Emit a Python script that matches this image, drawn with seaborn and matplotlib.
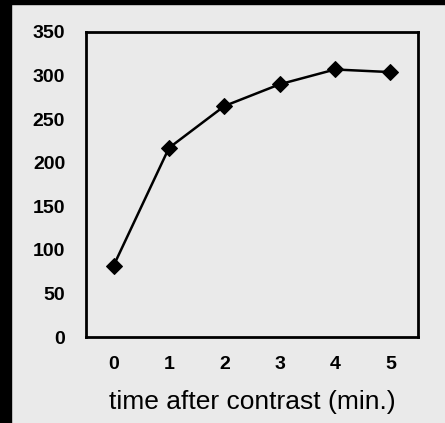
import matplotlib
matplotlib.use("Agg")
import matplotlib.pyplot as plt
import seaborn as sns
import pandas as pd

times = [0, 1, 2, 3, 4, 5]
values = [82, 217, 265, 290, 307, 304]
xlabel = "time after contrast (min.)"
yticks = [0, 50, 100, 150, 200, 250, 300, 350]

sns.set_style("white")
plt.rcParams['font.family'] = ['Liberation Sans', 'DejaVu Sans']
plt.rcParams['text.color'] = 'black'
plt.rcParams['xtick.color'] = 'black'
plt.rcParams['ytick.color'] = 'black'
plt.rcParams['axes.labelcolor'] = 'black'

bg = "#eaeaea"
fig = plt.figure(figsize=(4.45, 4.23), dpi=100, facecolor=bg)
# black border strips
fig.patches.append(plt.Rectangle((0, 0), 11/445, 1, transform=fig.transFigure, color="black", zorder=-1))
fig.patches.append(plt.Rectangle((0, 1 - 4/423), 1, 4/423, transform=fig.transFigure, color="black", zorder=-1))

ax = fig.add_axes([86/445, 1 - 337/423, (418-86)/445, (337-32)/423])
ax.set_facecolor(bg)
df = pd.DataFrame({"t": times, "v": values})
sns.lineplot(data=df, x="t", y="v", ax=ax, color="black", lw=1.8,
             marker="D", markersize=8.5, markeredgecolor="black")

ax.set_xlim(-0.5, 5.5)
ax.set_ylim(0, 350)
ax.set_yticks(yticks)
ax.set_xticks(times)
ax.set_xticks([t - 0.5 for t in times] + [5.5], minor=True)
ax.tick_params(axis="x", which="major", length=0, pad=14)
ax.tick_params(axis="x", which="minor", length=5, width=1.8, direction="out", color="black")
ax.tick_params(axis="y", length=5, width=1.8, direction="out", color="black", pad=10)
ax.tick_params(labelsize=14, labelcolor="black")
for lab in ax.get_xticklabels() + ax.get_yticklabels():
    lab.set_fontweight("bold")
for s in ax.spines.values():
    s.set_visible(True)
    s.set_color("black")
    s.set_linewidth(2)
ax.set_xlabel(xlabel, fontsize=19, labelpad=12, color="black")
ax.set_ylabel("")
fig.savefig("out.png", dpi=100, facecolor=bg)
